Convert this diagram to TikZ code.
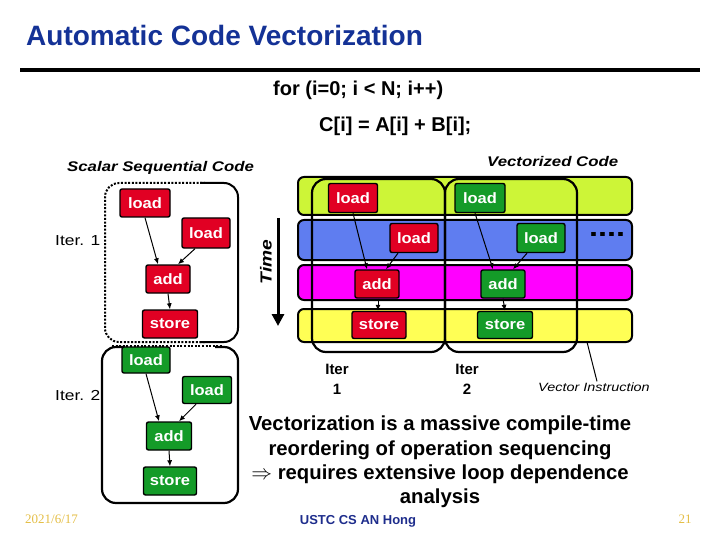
\documentclass[tikz,border=0pt]{standalone}
\usepackage{fontspec}
\setmainfont{Liberation Sans}
\newfontfamily\widesans[FakeStretch=1.2]{Liberation Sans}
\newfontfamily\opsans[FakeStretch=1.1]{Liberation Sans}
\newfontfamily\serifft{Liberation Serif}
\usetikzlibrary{arrows.meta,calc}
\definecolor{titleblue}{RGB}{20,50,150}
\definecolor{footblue}{RGB}{30,45,140}
\definecolor{gold}{RGB}{228,190,70}
\definecolor{opred}{RGB}{225,0,35}
\definecolor{opgreen}{RGB}{20,155,40}
\definecolor{bandlime}{RGB}{205,245,55}
\definecolor{bandblue}{RGB}{95,125,240}
\definecolor{bandmag}{RGB}{255,0,255}
\definecolor{bandyel}{RGB}{255,255,85}
\begin{document}
\begin{tikzpicture}[x=1pt,y=-1pt,
  op/.style={draw=black, line width=1.4pt, rounded corners=2pt, text=white,
    font=\opsans\bfseries\fontsize{15}{15}\selectfont, inner sep=0pt},
  redop/.style={op, fill=opred},
  greenop/.style={op, fill=opgreen},
  band/.style={draw=black, line width=2pt, rounded corners=6pt},
  iterbox/.style={draw=black, line width=2.2pt, rounded corners=14pt},
  arr/.style={line width=1pt, -{Latex[length=6pt,width=5pt]}},
  heading/.style={font=\widesans\bfseries\itshape\fontsize{14}{14}\selectfont, inner sep=0pt, anchor=base west},
  lbl/.style={font=\widesans\fontsize{14.5}{14.5}\selectfont, inner sep=0pt, anchor=base west},
  iterlbl/.style={font=\bfseries\fontsize{15}{20}\selectfont, inner sep=0pt, align=center}
]
\useasboundingbox (0,0) rectangle (720,540);

% title
\node[anchor=base west, inner sep=0, text=titleblue,
  font=\bfseries\fontsize{28}{28}\selectfont] (title) at (26,46) {Automatic Code Vectorization};
\draw[line width=4pt] (20,70) -- (700,70);

% code
\node[anchor=base west, inner sep=0, font=\bfseries\fontsize{20}{20}\selectfont] (for) at (273,96) {for (i=0; i < N; i++)};
\node[anchor=base west, inner sep=0, font=\bfseries\fontsize{20}{20}\selectfont] (body) at (319,132) {C[i] = A[i] + B[i];};

% headings
\node[heading] (hscalar) at (67,172) {Scalar Sequential Code};
\node[heading] (hvec) at (487,167) {Vectorized Code};

% ---------- scalar side ----------
\node[lbl] (it1) at (55,245) {Iter. 1};
\node[lbl] (it2) at (55,400) {Iter. 2};

% iter 1 box: dotted top/left/bottom, solid right
\draw[line width=2pt, dash pattern=on 2pt off 1.6pt, rounded corners=14pt]
  (205,342) -- (105,342) -- (105,183) -- (205,183);
\draw[line width=2pt, rounded corners=14pt]
  (200,183) -- (238,183) -- (238,342) -- (200,342);
% iter 2 box: solid with dotted top
\draw[line width=2.2pt, rounded corners=14pt]
  (125,347) -- (102,347) -- (102,503) -- (238,503) -- (238,347) -- (215,347);
\draw[line width=2pt, dash pattern=on 2pt off 1.6pt] (112,346) -- (223,346);

\node[redop, minimum width=50pt, minimum height=28pt] (l11) at (145,203) {load};
\node[redop, minimum width=48pt, minimum height=30pt] (l12) at (206,233) {load};
\node[redop, minimum width=44pt, minimum height=28pt] (a1) at (168,279) {add};
\node[redop, minimum width=55pt, minimum height=28pt] (s1) at (170,324) {store};
\draw[arr] (l11.south) -- ([xshift=-10pt]a1.north);
\draw[arr] ([xshift=-11pt]l12.south) -- ([xshift=10pt]a1.north);
\draw[arr] (a1.south) -- (s1.north);

\node[greenop, minimum width=48pt, minimum height=26pt] (l21) at (146,360) {load};
\node[greenop, minimum width=49pt, minimum height=27pt] (l22) at (207,390) {load};
\node[greenop, minimum width=45pt, minimum height=28pt] (a2) at (169,436) {add};
\node[greenop, minimum width=53pt, minimum height=28pt] (s2) at (170,481) {store};
\draw[arr] (l21.south) -- ([xshift=-10pt]a2.north);
\draw[arr] ([xshift=-11pt]l22.south) -- ([xshift=10pt]a2.north);
\draw[arr] (a2.south) -- (s2.north);

% ---------- time arrow ----------
\coordinate (t0) at (278,218);
\coordinate (t1) at (278,326);
\draw[line width=3pt, -{Triangle[length=12pt,width=12pt]}] (t0) -- (t1);
\node[rotate=90, font=\widesans\bfseries\itshape\fontsize{16}{16}\selectfont, inner sep=0] (time) at (266,262) {Time};

% ---------- vectorized side ----------
\draw[band, fill=bandlime] (298,177) rectangle (632,215);
\draw[band, fill=bandblue] (298,220) rectangle (632,260);
\draw[band, fill=bandmag] (298,265) rectangle (632,300);
\draw[band, fill=bandyel] (298,309) rectangle (632,342);

\draw[iterbox] (312,179) rectangle (445,352);
\draw[iterbox] (445,179) rectangle (577,352);

\node[redop, minimum width=49pt, minimum height=29pt] (vl11) at (353,198) {load};
\node[redop, minimum width=48pt, minimum height=29pt] (vl12) at (414,238) {load};
\node[redop, minimum width=44pt, minimum height=28pt] (va1) at (377,284) {add};
\node[redop, minimum width=54pt, minimum height=27pt] (vs1) at (379,325) {store};
\draw[arr] (vl11.south) -- ([xshift=-10pt]va1.north);
\draw[arr] ([xshift=-16pt]vl12.south) -- ([xshift=9pt]va1.north);
\draw[arr] ([xshift=1pt]va1.south) -- ([xshift=-1pt]vs1.north);

\node[greenop, minimum width=50pt, minimum height=29pt] (vl21) at (480,198) {load};
\node[greenop, minimum width=48pt, minimum height=29pt] (vl22) at (541,238) {load};
\node[greenop, minimum width=44pt, minimum height=28pt] (va2) at (503,284) {add};
\node[greenop, minimum width=55pt, minimum height=27pt] (vs2) at (505,325) {store};
\draw[arr] ([xshift=-5pt]vl21.south) -- ([xshift=-10pt]va2.north);
\draw[arr] ([xshift=-14pt]vl22.south) -- ([xshift=10pt]va2.north);
\draw[arr] (va2.south) -- (vs2.north);

\node[font=\widesans\bfseries\fontsize{27}{27}\selectfont, inner sep=0] (dots) at (607,234) {....};

\node[iterlbl] (vit1) at (337,379) {Iter\\1};
\node[iterlbl] (vit2) at (467,379) {Iter\\2};

\node[font=\widesans\itshape\fontsize{12}{12}\selectfont, inner sep=1pt] (vi) at (594,387) {Vector Instruction};
\coordinate (vip) at (587,342);
\draw[line width=1pt] ([xshift=3pt]vi.north) -- (vip);

% ---------- bottom statement ----------
\node[align=center, inner sep=0, anchor=north, font=\bfseries\fontsize{20.3}{24.3}\selectfont] (stmt) at (440,416)
  {Vectorization is a massive compile-time\\reordering of operation sequencing\\$\Rightarrow$ requires extensive loop dependence\\analysis};

% ---------- footer ----------
\node[anchor=west, inner sep=0, text=gold, font=\serifft\fontsize{13}{13}\selectfont] (date) at (25,519) {2021/6/17};
\node[inner sep=0, text=footblue, font=\bfseries\fontsize{13}{13}\selectfont] (foot) at (358,521) {USTC CS AN Hong};
\node[inner sep=0, text=gold, font=\serifft\fontsize{13}{13}\selectfont] (page) at (685,519) {21};
\end{tikzpicture}
\end{document}
